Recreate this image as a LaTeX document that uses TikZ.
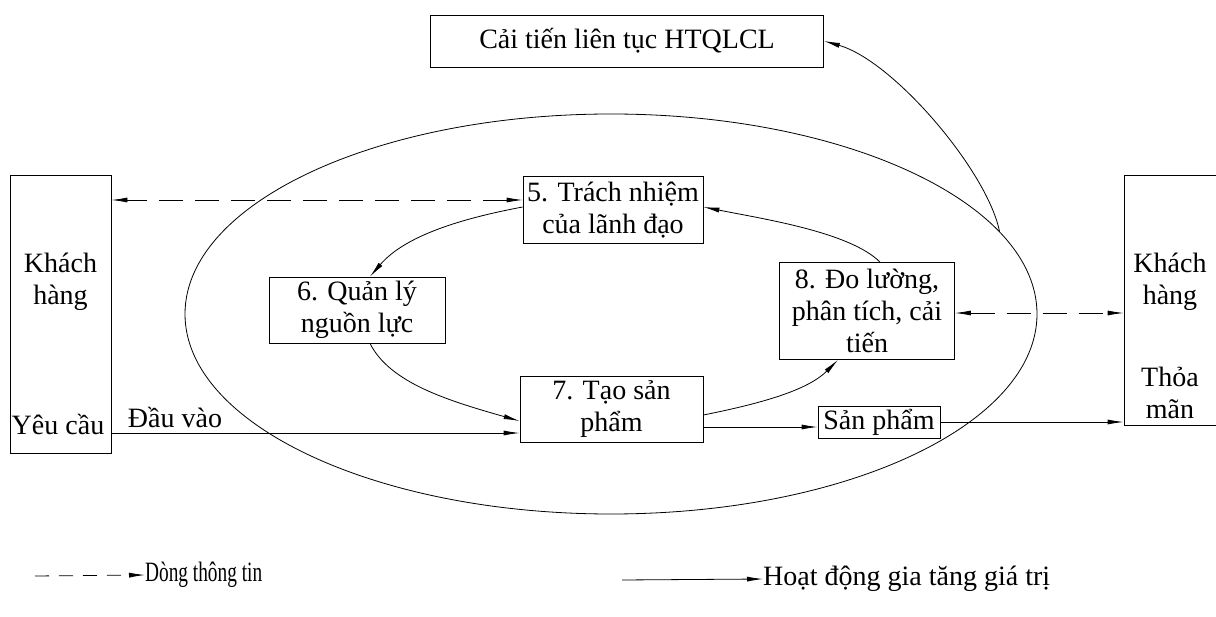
\documentclass[tikz,border=0pt]{standalone}
\usepackage{fontspec}
\setmainfont{Liberation Serif}
\usetikzlibrary{arrows.meta,shapes.geometric}
\begin{document}
\begin{tikzpicture}[x=1pt,y=-1pt,
  box/.style={draw,line width=0.8pt,align=center,inner sep=0pt,font=\fontsize{28}{32}\selectfont},
  txt/.style={inner sep=0pt,align=center,font=\fontsize{28}{32}\selectfont},
  tip/.tip={Latex[length=16pt,width=5pt]},
  arr/.style={line width=0.8pt,-tip},
  info/.style={line width=0.8pt,dash pattern=on 24pt off 12pt,tip-tip},
  legdash/.style={line width=0.8pt,dash pattern=on 14pt off 10pt,-tip},
]
\useasboundingbox (0,0) rectangle (1216,617);
\node[draw,ellipse,line width=0.8pt,minimum width=852pt,minimum height=400pt,inner sep=0pt] (ell) at (611,314) {};

\node[box,minimum width=393pt,minimum height=52pt] (top) at (627,41) {Cải tiến liên tục HTQLCL};

\node[box,minimum width=101pt,minimum height=278pt] (kl) at (60.5,314) {};
\node[txt] (klt) at (60.5,282) {Khách\\hàng};
\node[txt] (kly) at (58,424) {Yêu cầu};

\node[box,minimum width=94pt,minimum height=250pt] (kr) at (1171,300) {};
\node[txt] (krt) at (1170,282) {Khách\\hàng};
\node[txt] (krs) at (1170,393) {Thỏa\\mãn};

\node[box,minimum width=180pt,minimum height=67pt] (b5) at (613,210) {5. Trách nhiệm\\của lãnh đạo};
\node[box,minimum width=176pt,minimum height=66pt] (b6) at (357,310) {6. Quản lý\\nguồn lực};
\node[box,minimum width=183pt,minimum height=66pt] (b7) at (611.5,409) {7. Tạo sản\\phẩm};
\node[box,minimum width=175pt,minimum height=97pt] (b8) at (867,311) {8. Đo lường,\\phân tích, cải\\tiến};
\node[box,minimum width=122pt,minimum height=32pt] (sp) at (879,422) {Sản phẩm};

% information flows
\coordinate (d1) at ([yshift=10pt]b5.west);
\draw[info] (d1) -- (d1 -| kl.east);
\coordinate (d2) at ([yshift=-2pt]b8.east);
\draw[info] (d2) -- (d2 -| kr.west);

% cycle
\draw[arr] ([yshift=3pt]b5.west) .. controls +(-80,15) and +(30,-35) .. ([xshift=13pt]b6.north);
\draw[arr] ([xshift=13pt]b6.south) .. controls +(20,40) and +(-70,-20) .. ([yshift=-12pt]b7.west);
\draw[arr] ([yshift=-6pt]b7.east) .. controls +(60,-12) and +(-30,30) .. ([xshift=-29pt]b8.south);
\draw[arr] ([xshift=13pt]b8.north) .. controls +(-30,-30) and +(60,12) .. ([yshift=3pt]b5.east);

% input / output
\coordinate (e1) at ([yshift=-24pt]b7.west);
\draw[arr] (e1 -| kl.east) -- (e1);
\node[txt] (dv) at (175,418) {Đầu vào};
\coordinate (f1) at ([yshift=-18pt]b7.east);
\draw[arr] (f1) -- (f1 -| sp.west);
\draw[arr] (sp.east) -- (sp.east -| kr.west);

% improvement
\draw[arr] (ell.12.4) .. controls +(-12,-60) and +(70,20) .. (top.east);

% legend
\node[txt,anchor=west] (l1) at (145,575) {\scalebox{0.69}[1]{Dòng thông tin}};
\coordinate (l1s) at (35,576);
\draw[legdash] (l1s) -- (l1.west);
\node[txt,anchor=west] (l2) at (763,579) {Hoạt động gia tăng giá trị};
\coordinate (l2s) at (622,580);
\draw[arr] (l2s) -- (l2.west);
\end{tikzpicture}
\end{document}
